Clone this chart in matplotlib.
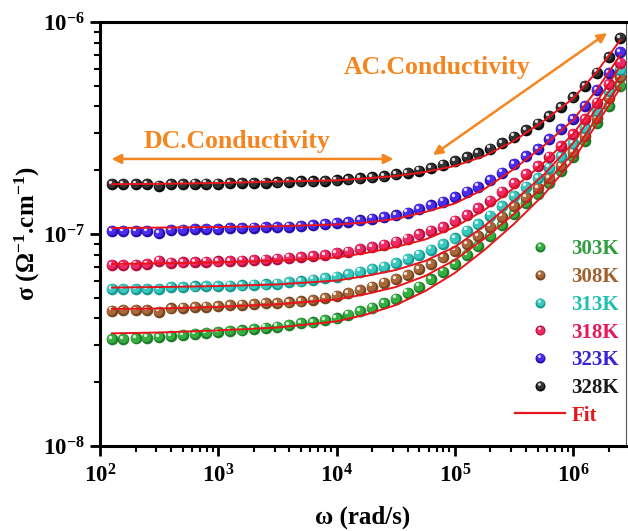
import matplotlib
matplotlib.use("Agg")
import matplotlib.pyplot as plt
import matplotlib.transforms as mtransforms
from matplotlib.lines import Line2D
from matplotlib.legend_handler import HandlerBase
from matplotlib.ticker import FuncFormatter, LogLocator, NullFormatter
import numpy as np

plt.rcParams['font.family'] = ['Liberation Serif', 'DejaVu Serif']
plt.rcParams['font.weight'] = 'bold'
plt.rcParams['mathtext.fontset'] = 'custom'
plt.rcParams['mathtext.rm'] = 'Liberation Serif:bold'
plt.rcParams['mathtext.bf'] = 'Liberation Serif:bold'
plt.rcParams['mathtext.it'] = 'Liberation Serif:bold:italic'

# ---------------- data ----------------
omega = [126, 158, 200, 251, 316, 398, 501, 631, 794,
         1.0e3, 1.26e3, 1.58e3, 2.0e3, 2.51e3, 3.16e3, 3.98e3, 5.01e3, 6.31e3, 7.94e3,
         1.0e4, 1.26e4, 1.58e4, 2.0e4, 2.51e4, 3.16e4, 3.98e4, 5.01e4, 6.31e4, 7.94e4,
         1.0e5, 1.26e5, 1.58e5, 2.0e5, 2.51e5, 3.16e5, 3.98e5, 5.01e5, 6.31e5, 7.94e5,
         1.0e6, 1.26e6, 1.58e6, 2.0e6, 2.51e6]

s303 = [3.19, 3.20, 3.22, 3.24, 3.27, 3.30, 3.34, 3.38, 3.41, 3.45, 3.48, 3.51, 3.56, 3.61,
        3.65, 3.72, 3.79, 3.83, 3.92, 4.00, 4.16, 4.32, 4.49, 4.71, 4.95, 5.29, 5.64, 6.11,
        6.63, 7.22, 7.96, 8.78, 9.79, 11.03, 12.43, 14.05, 15.44, 17.40, 19.82, 23.07,
        27.47, 33.38, 40.17, 49.90]
s308 = [4.35, 4.38, 4.38, 4.38, 4.30, 4.46, 4.49, 4.53, 4.54, 4.57, 4.61, 4.64, 4.67, 4.71,
        4.72, 4.76, 4.81, 4.88, 4.99, 5.12, 5.25, 5.43, 5.64, 5.89, 6.13, 6.41, 6.82, 7.22,
        7.75, 8.35, 8.97, 9.79, 10.82, 12.07, 13.55, 14.90, 16.43, 18.37, 20.93, 24.36,
        28.99, 35.25, 43.80, 55.02]
s313 = [5.50, 5.49, 5.49, 5.50, 5.51, 5.62, 5.63, 5.66, 5.68, 5.68, 5.70, 5.72, 5.76, 5.78,
        5.84, 5.92, 5.98, 6.09, 6.18, 6.29, 6.46, 6.64, 6.82, 7.01, 7.30, 7.62, 8.00, 8.45,
        8.95, 9.54, 10.36, 11.15, 12.20, 13.55, 15.11, 16.71, 18.31, 20.52, 23.23, 26.76,
        31.62, 38.16, 47.11, 59.37]
s318 = [7.14, 7.14, 7.17, 7.20, 7.48, 7.32, 7.35, 7.38, 7.40, 7.43, 7.46, 7.48, 7.52, 7.56,
        7.64, 7.72, 7.80, 7.87, 7.96, 8.11, 8.25, 8.47, 8.66, 8.92, 9.20, 9.52, 9.95, 10.36,
        10.79, 11.55, 12.29, 13.22, 14.36, 15.83, 17.34, 19.19, 20.86, 23.15, 26.02, 29.62,
        34.75, 41.63, 50.99, 64.27]
s323 = [10.33, 10.33, 10.33, 10.33, 10.11, 10.44, 10.47, 10.52, 10.56, 10.56, 10.64, 10.67,
        10.71, 10.76, 10.79, 10.83, 10.91, 10.99, 11.11, 11.23, 11.39, 11.60, 11.81, 11.99,
        12.23, 12.63, 13.12, 13.63, 14.20, 14.90, 15.83, 16.71, 17.97, 19.46, 21.39, 23.33,
        25.09, 27.97, 31.17, 34.75, 40.17, 47.78, 57.28, 71.97]
s328 = [17.2, 17.2, 17.2, 17.2, 16.9, 17.2, 17.2, 17.25, 17.3, 17.3, 17.35, 17.4, 17.4, 17.45,
        17.5, 17.6, 17.7, 17.7, 17.8, 17.9, 18.1, 18.3, 18.5, 18.7, 19.1, 19.4, 19.9, 20.5,
        21.2, 22.1, 23.0, 24.0, 25.3, 26.9, 28.8, 30.9, 33.2, 36.0, 39.6, 44.1, 49.9, 57.6,
        68.2, 83.8]

omega_fit = [126, 316, 1.0e3, 3.16e3, 1.0e4, 1.78e4, 3.16e4, 5.62e4, 1.0e5, 1.78e5, 3.16e5,
             5.62e5, 1.0e6, 1.58e6, 2.51e6]
f303 = [3.40, 3.43, 3.51, 3.62, 3.87, 4.17, 4.62, 5.38, 6.55, 8.41, 11.15, 15.28, 22.34, 33.03, 48.84]
f308 = [4.43, 4.45, 4.53, 4.66, 4.91, 5.21, 5.62, 6.34, 7.54, 9.52, 12.43, 16.84, 24.10, 35.25, 51.55]
f313 = [5.59, 5.62, 5.68, 5.78, 6.03, 6.34, 6.76, 7.46, 8.69, 10.91, 14.31, 18.98, 26.87, 39.29, 55.62]
f318 = [7.22, 7.27, 7.35, 7.48, 7.75, 8.14, 8.69, 9.42, 10.79, 12.98, 16.48, 21.62, 29.62, 41.95, 62.00]
f323 = [10.67, 10.72, 10.79, 10.88, 11.09, 11.33, 11.77, 12.70, 13.93, 16.31, 20.26, 26.02, 34.49, 47.78, 69.89]
f328 = [17.17, 17.25, 17.40, 17.67, 17.92, 18.30, 18.77, 19.60, 20.93, 23.33, 27.47, 34.10, 43.60, 58.10, 82.30]

labels = ['303K', '308K', '313K', '318K', '323K', '328K']
series = [s303, s308, s313, s318, s323, s328]
fits = [f303, f308, f313, f318, f323, f328]
unit = 1e-8

base_colors = ['#34b040', '#a8683a', '#38c8bf', '#f02a66', '#4a2cee', '#333333']
dark_colors = ['#1f7d2a', '#77451f', '#179a91', '#b50e3c', '#2810ad', '#0c0c0c']
text_colors = ['#2e9e3e', '#a0622d', '#22c0b2', '#e8195a', '#3a22d8', '#1a1a1a']
fit_color = '#e8141c'
orange = '#f5861f'

# ---------------- figure ----------------
fig = plt.figure(figsize=(6.28, 5.31), dpi=100)
ax = fig.add_axes([100/628, 85/531, 526/628, 424/531])
ax.set_xscale('log')
ax.set_yscale('log')
ax.set_xlim(1e2, 2.8e6)
ax.set_ylim(1e-8, 1e-6)

ms = 8.4
off_mid = mtransforms.offset_copy(ax.transData, fig=fig, x=-0.6, y=0.6, units='points')
off_hi = mtransforms.offset_copy(ax.transData, fig=fig, x=-1.5, y=1.7, units='points')

for vals, bc, dc in zip(series, base_colors, dark_colors):
    y = np.array(vals) * unit
    ax.plot(omega, y, ls='none', marker='o', ms=ms, mfc=dc, mec='none', zorder=3)
    ax.plot(omega, y, ls='none', marker='o', ms=ms*0.78, mfc=bc, mec='none', zorder=3,
            transform=off_mid)
    ax.plot(omega, y, ls='none', marker='o', ms=2.4, mfc='white', mec='none', alpha=0.85,
            zorder=3, transform=off_hi)

for fv in fits:
    ax.plot(omega_fit, np.array(fv) * unit, color=fit_color, lw=1.4, zorder=4)

# ---------------- annotations ----------------
ax.annotate('', xy=(0.022, 0.677), xytext=(0.558, 0.677), xycoords='axes fraction',
            arrowprops=dict(arrowstyle='<|-|>', color=orange, lw=1.8, mutation_scale=14,
                            shrinkA=0, shrinkB=0))
ax.text(0.2605, 0.718, 'DC.Conductivity', transform=ax.transAxes, color=orange,
        fontsize=18.5, fontweight='bold', ha='center', va='center')
ax.annotate('', xy=(0.633, 0.686), xytext=(0.964, 0.974), xycoords='axes fraction',
            arrowprops=dict(arrowstyle='<|-|>', color=orange, lw=1.8, mutation_scale=14,
                            shrinkA=0, shrinkB=0))
ax.text(0.6407, 0.892, 'AC.Conductivity', transform=ax.transAxes, color=orange,
        fontsize=18.5, fontweight='bold', ha='center', va='center')

# ---------------- axes styling ----------------
for side in ['left', 'bottom', 'top']:
    ax.spines[side].set_linewidth(2.2)
ax.spines['right'].set_linewidth(0.8)
ax.spines['right'].set_color('#555555')

fmt = FuncFormatter(lambda v, p: r'$\mathbf{10^{%d}}$' % int(round(np.log10(v))))
ax.xaxis.set_major_locator(LogLocator(base=10, numticks=10))
ax.yaxis.set_major_locator(LogLocator(base=10, numticks=10))
ax.xaxis.set_minor_locator(LogLocator(base=10, subs=np.arange(2, 10), numticks=20))
ax.yaxis.set_minor_locator(LogLocator(base=10, subs=np.arange(2, 10), numticks=20))
ax.xaxis.set_major_formatter(fmt)
ax.yaxis.set_major_formatter(fmt)
ax.xaxis.set_minor_formatter(NullFormatter())
ax.yaxis.set_minor_formatter(NullFormatter())
ax.tick_params(which='major', direction='out', length=7, width=2.0, labelsize=16.5, pad=4,
               top=False, right=False)
ax.tick_params(which='minor', direction='out', length=4, width=1.5, top=False, right=False)
ax.tick_params(axis='x', which='major', pad=6.5)

ax.set_xlabel('ω (rad/s)', fontsize=18, fontweight='bold')
ax.set_ylabel(r'σ (Ω$^{\mathbf{-1}}$.cm$^{\mathbf{-1}}$)', fontsize=18, fontweight='bold')
ax.xaxis.set_label_coords(0.5, -0.14)
ax.yaxis.set_label_coords(-0.11, 0.5)

# ---------------- legend ----------------
class SphereHandler(HandlerBase):
    def __init__(self, base, dark):
        super().__init__()
        self.base = base
        self.dark = dark

    def create_artists(self, legend, orig_handle, xdescent, ydescent, width, height,
                       fontsize, trans):
        cx = width / 2 - xdescent
        cy = height / 2 - ydescent
        m = 7.2
        a1 = Line2D([cx], [cy], ls='none', marker='o', ms=m, mfc=self.dark, mec='none',
                    transform=trans)
        a2 = Line2D([cx - 0.5], [cy + 0.5], ls='none', marker='o', ms=m * 0.78, mfc=self.base,
                    mec='none', transform=trans)
        a3 = Line2D([cx - 1.3], [cy + 1.4], ls='none', marker='o', ms=2.0, mfc='white',
                    mec='none', alpha=0.85, transform=trans)
        return [a1, a2, a3]

handles = []
hmap = {}
for lab, bc, dc in zip(labels, base_colors, dark_colors):
    h = Line2D([], [], ls='none', marker='o', color=bc)
    handles.append(h)
    hmap[h] = SphereHandler(bc, dc)
fit_handle = Line2D([], [], color=fit_color, lw=1.6)
handles.append(fit_handle)

leg = ax.legend(handles, labels + ['Fit'], handler_map=hmap, loc='lower right',
                bbox_to_anchor=(0.995, 0.038), frameon=False, fontsize=15,
                handlelength=2.4, handletextpad=0.3, labelspacing=0.37, borderpad=0,
                borderaxespad=0.2, prop={'weight': 'bold', 'size': 15},
                labelcolor=text_colors + [fit_color])

fig.savefig('out.png', dpi=100)
